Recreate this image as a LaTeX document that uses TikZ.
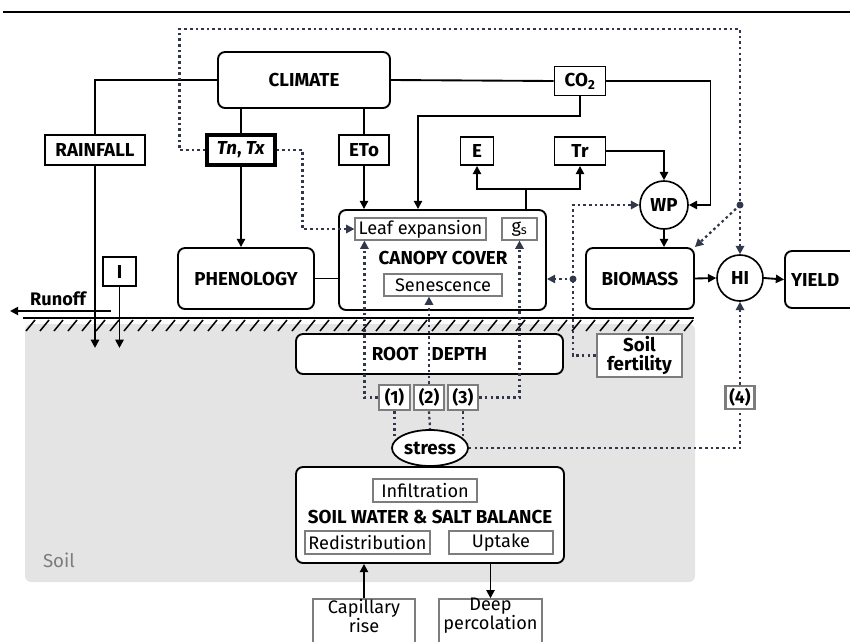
\documentclass[tikz,border=0pt]{standalone}
\usepackage{fontspec}
\setmainfont{Fira Sans}
\usetikzlibrary{arrows.meta,shapes.geometric}
\definecolor{slate}{RGB}{50,55,75}
\definecolor{soilgray}{RGB}{228,228,228}
\definecolor{framegray}{RGB}{125,125,125}

\begin{document}
\begin{tikzpicture}[
    x=0.03cm, y=-0.03cm,
    block/.style={draw, fill=white, line width=1.6pt, rounded corners=6pt, inner sep=0, font=\fontsize{16}{18}\selectfont\bfseries},
    tagbox/.style={draw, fill=white, line width=1.6pt, inner sep=0, font=\fontsize{16}{18}\selectfont\bfseries},
    subbox/.style={draw=framegray, fill=white, line width=1pt, inner sep=0, font=\fontsize{15.5}{17}\selectfont},
    stressno/.style={draw=framegray, fill=white, line width=2.2pt, inner sep=0, font=\fontsize{15}{16}\selectfont\bfseries},
    ratiocircle/.style={circle, draw, fill=white, line width=1.4pt, inner sep=0, font=\fontsize{16}{18}\selectfont\bfseries},
    outbox/.style={draw=framegray, fill=white, line width=1.3pt, minimum height=1.59cm},
    outtext/.style={align=center, inner sep=0, font=\fontsize{15.5}{14}\selectfont},
    flow/.style={draw, line width=1.6pt, -{Triangle[length=7pt,width=7pt]}},
    link/.style={draw, line width=1.6pt},
    feedback/.style={draw=slate, line width=1.9pt, dash pattern=on 2.2pt off 2.6pt},
    feedbackarrow/.style={feedback, -{Triangle[length=7pt,width=7pt]}}
    ]
    \useasboundingbox (0,0) rectangle (850,641);
    \clip (0,0) rectangle (850,641);

    % Top rule
    \draw[line width=0.9pt] (3,12) -- (850,12);

    % Soil and ground surface
    \fill[soilgray, rounded corners=5pt] (25,324) rectangle (695,582);
    \draw[line width=1.3pt] (23,318) -- (694,318);
    \foreach \x in {26,40,...,684}
        \draw[line width=1.3pt] (\x,331) -- ++(9,-11);
    \node[font=\fontsize{16}{18}\selectfont, text=framegray] (soil) at (59,560) {Soil};

    % Climate inputs
    \node[block, minimum width=5.16cm, minimum height=1.68cm] (climate) at (304,80) {CLIMATE};
    \node[tagbox, minimum width=3.0cm, minimum height=0.9cm] (rainfall) at (95,150) {RAINFALL};
    \node[tagbox, line width=2.6pt, minimum width=2.04cm, minimum height=0.9cm] (tntx) at (241,150) {\textit{Tn}, \textit{Tx}};
    \node[tagbox, minimum width=1.5cm, minimum height=0.9cm] (eto) at (364,150) {ETo};
    \node[tagbox, minimum width=1.53cm, minimum height=0.87cm] (cotwo) at (580,81) {CO\textsubscript{2}};
    \node[tagbox, minimum width=0.99cm, minimum height=0.84cm] (evap) at (477,151) {E};
    \node[tagbox, minimum width=1.53cm, minimum height=0.84cm] (transp) at (580,151) {Tr};
    \node[tagbox, minimum width=0.99cm, minimum height=0.87cm] (irrig) at (119.5,271.5) {I};

    % Crop
    \node[block, minimum width=6.21cm, minimum height=3.0cm] (canopy) at (442.5,260) {};
    \node[subbox, minimum width=3.93cm, minimum height=0.66cm] (leafexp) at (420.5,229) {Leaf expansion};
    \node[subbox, minimum width=1.05cm, minimum height=0.66cm] (gs) at (519.5,229) {g\textsubscript{s}};
    \node[font=\fontsize{16}{18}\selectfont\bfseries] (cctext) at (443,258) {CANOPY COVER};
    \node[subbox, minimum width=3.54cm, minimum height=0.66cm] (senesc) at (443,285) {Senescence};
    \node[block, minimum width=4.08cm, minimum height=1.83cm] (phenology) at (246,278.5) {PHENOLOGY};
    \node[ratiocircle, minimum size=1.44cm] (wp) at (664,205) {WP};
    \node[block, minimum width=3.24cm, minimum height=1.83cm] (biomass) at (640,278.5) {BIOMASS};
    \node[ratiocircle, minimum size=1.38cm] (hi) at (740,278) {HI};
    \node[block, minimum width=2.25cm, minimum height=1.71cm, text width=1.89cm] (yield) at (822.5,279.5) {YIELD};

    % Soil compartment
    \node[block, minimum width=8.01cm, minimum height=1.2cm] (rootdepth) at (429.5,354) {ROOT\hspace{0.7em}DEPTH};
    \node[stressno, font=\fontsize{16}{16}\selectfont\bfseries, align=center, minimum width=2.55cm, minimum height=1.29cm] (fertility) at (639.5,355.5) {Soil\\fertility};
    \node[stressno, minimum width=0.93cm, minimum height=0.75cm] (s1) at (394.5,397.5) {(1)};
    \node[stressno, minimum width=0.9cm, minimum height=0.75cm] (s2) at (429,397.5) {(2)};
    \node[stressno, minimum width=0.9cm, minimum height=0.75cm] (s3) at (463,397.5) {(3)};
    \node[stressno, minimum width=0.87cm, minimum height=0.69cm] (s4) at (740,397.5) {(4)};
    \node[ellipse, draw, fill=white, line width=1.5pt, inner sep=0, minimum width=2.28cm, minimum height=1.08cm, font=\fontsize{16}{18}\selectfont\bfseries] (stress) at (430,448) {stress};
    \node[block, minimum width=8.04cm, minimum height=2.88cm] (swb) at (430,515) {};
    \node[subbox, minimum width=3.12cm, minimum height=0.69cm] (infil) at (425,490.5) {Infiltration};
    \node[font=\fontsize{16}{18}\selectfont\bfseries] (swbtext) at (430,517) {SOIL WATER \& SALT BALANCE};
    \node[subbox, minimum width=3.75cm, minimum height=0.69cm] (redist) at (367.5,542.5) {Redistribution};
    \node[subbox, minimum width=3.12cm, minimum height=0.69cm] (uptake) at (501,542.5) {Uptake};
    \node[outbox, minimum width=3.06cm] (caprise) at (364,625.5) {};
    \node[outtext] (caprisetext) at (364,616) {Capillary\\rise};
    \node[outbox, minimum width=3.09cm] (deepperc) at (490.5,625.5) {};
    \node[outtext] (deepperctext) at (490.5,616) {Deep\\percolation};

    % Runoff
    \coordinate (rostart) at (111,311);
    \coordinate (roend) at (10,311);
    \draw[flow] (rostart) -- (roend);
    \node[font=\fontsize{15.5}{17}\selectfont\bfseries] (runoff) at (58,299) {Runoff};

    % Solid connectors
    \draw[link] (climate.west) -| (rainfall.north);
    \draw[link] (climate.south -| tntx.north) -- (tntx.north);
    \draw[link] (climate.south -| eto.north) -- (eto.north);
    \draw[link] (climate.east) -- (cotwo.west);
    \draw[flow] (cotwo.south) -- ++(0,19.5) -- ++(-162,0) -- (418,0 |- canopy.north);
    \draw[flow] (cotwo.east) -- ++(104,0) |- (wp.east);
    \draw[flow] (transp.east) -| (wp.north);
    \draw[link] (526,0 |- canopy.north) -- ++(0,-20) coordinate (ctop);
    \draw[flow] (ctop) -| (evap.south);
    \draw[flow] (ctop) -| (transp.south);
    \draw[flow] (eto.south) -- (eto.south |- canopy.north);
    \draw[flow] (tntx.south) -- (tntx.south |- phenology.north);
    \draw[link] (phenology.east) -- (phenology.east -| canopy.west);
    \draw[flow] (wp.south) -- (wp.south |- biomass.north);
    \draw[flow] (biomass.east) -- (hi.west);
    \draw[flow] (hi.east) -- (yield.west);
    \draw[flow] (rainfall.south) -- ++(0,182);
    \draw[flow] (irrig.south) -- ++(0,61);
    \draw[flow] (caprise.north) -- (caprise.north |- swb.south);
    \draw[flow] (deepperc.north |- swb.south) -- (deepperc.north);

    % Temperature and fertility feedbacks
    \coordinate (jn) at (740,205);
    \coordinate (fd) at (573,279);
    \draw[feedback] (tntx.west) -| ++(-26,-121) -| (jn);
    \draw[feedbackarrow] (jn) -- (hi.north);
    \draw[feedbackarrow] (jn) -- (biomass.north east);
    \draw[feedbackarrow] (tntx.east) -- ++(26,0) |- (leafexp.west);
    \draw[feedback] (fertility.west) -| (fd);
    \draw[feedbackarrow] (fd) |- (wp.west);
    \draw[feedbackarrow] (fd) -- (fd -| canopy.east);
    \fill[slate] (jn) circle (3.5);
    \fill[slate] (fd) circle (3.5);

    % Stress responses
    \draw[feedback] (s1.south) -- (s1.south |- stress.160);
    \draw[feedback] (s2.south) -- (stress.north);
    \draw[feedback] (s3.south) -- (s3.south |- stress.20);
    \draw[feedback] (stress.east) -| (s4.south);
    \draw[feedbackarrow] (s4.north) -- (hi.south);
    \draw[feedbackarrow] (s1.west) -| ([xshift=0.3cm]leafexp.south west);
    \draw[feedbackarrow] (s2.north) -- (s2.north |- senesc.south);
    \draw[feedbackarrow] (s3.east) -| (gs.south);
\end{tikzpicture}
\end{document}
